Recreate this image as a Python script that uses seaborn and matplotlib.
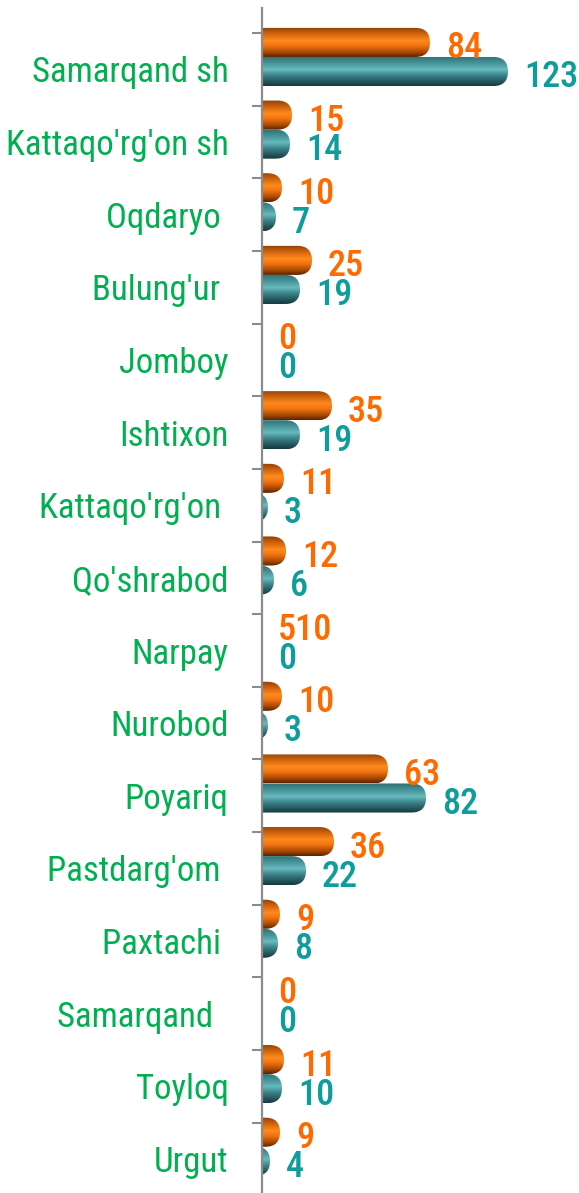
import numpy as np
import pandas as pd
import seaborn as sns
import matplotlib.pyplot as plt
from matplotlib import font_manager
from matplotlib.patches import FancyBboxPatch
from matplotlib.colors import LinearSegmentedColormap
from matplotlib.ticker import FixedLocator

# ------------------------------------------------
# Data

regions = ["Samarqand sh", "Kattaqo'rg'on sh", "Oqdaryo ", "Bulung'ur ", "Jomboy",
           "Ishtixon", "Kattaqo'rg'on ", "Qo'shrabod", "Narpay", "Nurobod",
           "Poyariq", "Pastdarg'om ", "Paxtachi ", "Samarqand  ", "Toyloq", "Urgut"]
orange = [84, 15, 10, 25, 0, 35, 11, 12, 0, 10, 63, 36, 9, 0, 11, 9]
teal = [123, 14, 7, 19, 0, 19, 3, 6, 0, 3, 82, 22, 8, 0, 10, 4]
orange_labels = ["84", "15", "10", "25", "0", "35", "11", "12", "510", "10",
                 "63", "36", "9", "0", "11", "9"]
teal_labels = [str(v) for v in teal]

# ------------------------------------------------
# Style

GREEN = '#00B050'
ORANGE_TXT = '#FF6A00'
TEAL_TXT = '#0E9C9C'
AXIS_GREY = '#8C8C8C'

orange_cmap = LinearSegmentedColormap.from_list('o', [
    (0.0, '#8A4008'), (0.22, '#D0620C'), (0.45, '#FF8A1C'),
    (0.62, '#F27412'), (0.85, '#A44600'), (1.0, '#5A2200')])
teal_cmap = LinearSegmentedColormap.from_list('t', [
    (0.0, '#2E6C72'), (0.28, '#4C9CA0'), (0.45, '#68BABE'),
    (0.62, '#3F8A90'), (0.85, '#24565C'), (1.0, '#15383D')])

installed = {f.name for f in font_manager.fontManager.ttflist}
if 'Roboto Condensed' in installed:
    FONT, LABEL_SIZE, NUM_SIZE = 'Roboto Condensed', 25, 26
elif 'Liberation Sans Narrow' in installed:
    FONT, LABEL_SIZE, NUM_SIZE = 'Liberation Sans Narrow', 24, 25
else:
    FONT, LABEL_SIZE, NUM_SIZE = 'Roboto', 21, 22

sns.set_style('white')
plt.rcParams['font.family'] = [FONT, 'DejaVu Sans']

# ------------------------------------------------
# Plot

W, H = 579, 1193
AX_LEFT, AX_TOP = 262, 8
fig, ax = plt.subplots(figsize=(W / 100, H / 100), dpi=100)
fig.subplots_adjust(left=AX_LEFT / W, right=1, top=1 - AX_TOP / H, bottom=0)

df = pd.DataFrame({'region': regions * 2,
                   'value': orange + teal,
                   'series': ['orange'] * len(orange) + ['teal'] * len(teal)})
sns.barplot(data=df, x='value', y='region', hue='series', orient='h',
            palette=['#F27412', '#3F8A90'], width=0.8, errorbar=None,
            legend=False, ax=ax)

XMAX = (W - AX_LEFT) / 2.0           # 2 px per unit
YTOP, YBOT = -0.844, 15.467
px_x = (W - AX_LEFT) / XMAX
px_y = (H - AX_TOP) / (YBOT - YTOP)
aspect = (1 / px_y) / (1 / px_x)
SHIFT = -0.17

grad = np.linspace(0, 1, 256).reshape(-1, 1)
for cont, cmap, labels, tcol in zip(ax.containers, [orange_cmap, teal_cmap],
                                    [orange_labels, teal_labels],
                                    [ORANGE_TXT, TEAL_TXT]):
    for bar, lab in zip(cont.patches, labels):
        bar.set_visible(False)
        v = bar.get_width()
        h = bar.get_height()
        y0 = bar.get_y() + SHIFT
        r = h * px_y / 2 / px_x
        x0 = min(-r, v - 2 * r)
        cap = FancyBboxPatch((x0, y0), v - x0, h,
                             boxstyle=f'round,pad=0,rounding_size={r}',
                             mutation_aspect=aspect, fc='none', ec='none')
        ax.add_patch(cap)
        im = ax.imshow(grad, cmap=cmap, extent=(x0, v, y0 + h, y0),
                       origin='upper', aspect='auto', zorder=2)
        im.set_clip_path(cap)
        ax.annotate(lab, xy=(v, y0 + h / 2), xytext=(11.5, -11.5),
                    textcoords='offset points', ha='left', va='baseline',
                    color=tcol, fontsize=NUM_SIZE, fontweight='medium')

ax.set_xlim(0, XMAX)
ax.set_ylim(YBOT, YTOP)
ax.set_xlabel('')
ax.set_ylabel('')
ax.set_xticks([])

for side in ['top', 'right', 'bottom']:
    ax.spines[side].set_visible(False)
ax.spines['left'].set_color(AXIS_GREY)
ax.spines['left'].set_linewidth(1.6)

ax.yaxis.set_minor_locator(FixedLocator(np.arange(len(regions)) - 0.5))
ax.tick_params(axis='y', which='major', length=0, pad=24,
               labelsize=LABEL_SIZE, labelcolor=GREEN)
ax.tick_params(axis='y', which='minor', length=7, width=1.5,
               color=AXIS_GREY, left=True)

fig.savefig('out.png', dpi=100)
